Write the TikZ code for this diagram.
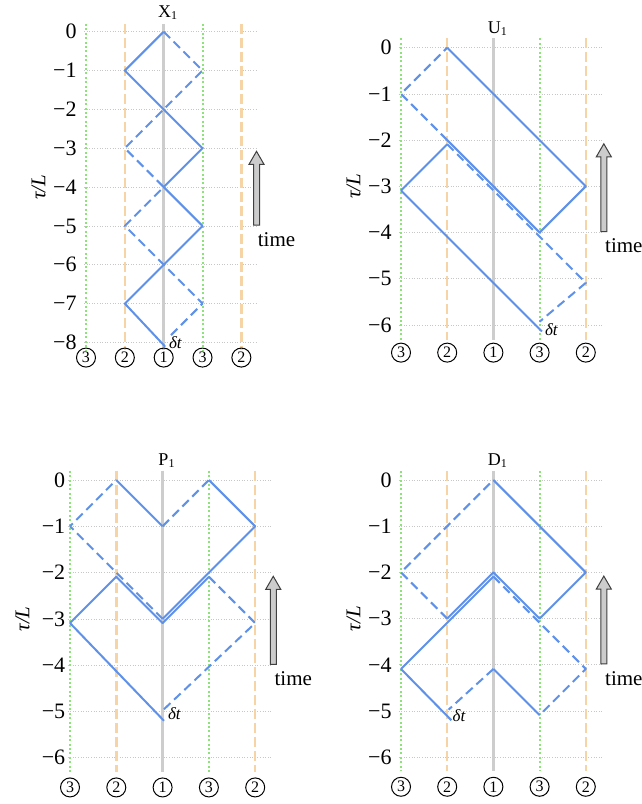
\documentclass[tikz,border=0pt]{standalone}
\usepackage{fontspec}
\setmainfont{Liberation Serif}

\definecolor{raycol}{RGB}{95,145,232}
\definecolor{mirgreen}{RGB}{140,228,120}
\definecolor{mirorange}{RGB}{246,212,165}
\definecolor{axisgray}{RGB}{205,205,205}

\tikzset{
  solidray/.style={raycol, line width=1pt, line join=round},
  dashray/.style={solidray, dash pattern=on 4.5pt off 2.5pt},
  greenmirror/.style={mirgreen, line width=1pt, dash pattern=on 1pt off 1.2pt},
  orangemirror/.style={mirorange, line width=1.2pt, dash pattern=on 5pt off 2pt},
  midline/.style={axisgray, line width=1.5pt},
  gridrow/.style={black!22, line width=0.35pt, dash pattern=on 0.5pt off 0.8pt},
  ticklabel/.style={anchor=east, inner sep=0pt, font=\fontsize{11}{13}\selectfont},
  portlabel/.style={circle, draw, line width=0.5pt, minimum size=9.5pt, inner sep=0pt, font=\fontsize{8}{9}\selectfont},
  timearrow/.style={fill=black!20, draw=black!75, line width=0.5pt},
  dtlabel/.style={anchor=west, inner sep=0pt, xshift=2.5pt, yshift=-1pt, font=\fontsize{8.5}{10}\selectfont\itshape}
}

% #1 prefix, #2 title, #3 rows, #4 mirror end, #5 port row, #6 tick gap
\newcommand{\rayframe}[6]{%
  \foreach \r in {0,...,#3}
    \draw[gridrow] (-0.05,-\r) -- (4.37,-\r);
  \draw[greenmirror] (0,0.2) -- (0,#4);
  \draw[orangemirror] (1,0.2) -- (1,#4);
  \draw[midline] (2,0.2) -- (2,#4);
  \draw[greenmirror] (3,0.2) -- (3,#4);
  \draw[orangemirror] (4,0.2) -- (4,#4);
  \node[inner sep=0pt, xshift=2.2pt, yshift=9.75pt, font=\fontsize{9}{10}\selectfont] (#1title) at (2,0) {#2\textsubscript{1}};
  \node[ticklabel, xshift=-#6] (#1t0) at (0,0) {0};
  \foreach \r in {1,...,#3}
    \node[ticklabel, xshift=-#6] (#1t\r) at (0,-\r) {−\r};
  \node[xshift=-23.75pt, rotate=90, inner sep=0pt, font=\fontsize{10.5}{12}\selectfont\itshape] (#1axis) at (0,-#3/2) {τ/L};
  \foreach \c/\m in {0/3,1/2,2/1,3/3,4/2}
    \node[portlabel] (#1p\c) at (\c,#5) {\m};
  \coordinate (#1atop) at (4.39,-#3/2+0.92);
  \coordinate (#1abot) at (4.39,-#3/2-0.98);
  \filldraw[timearrow] ([xshift=-1.5pt]#1abot) -- ([xshift=-1.5pt,yshift=-6.5pt]#1atop)
    -- ([xshift=-3.75pt,yshift=-6.5pt]#1atop) -- (#1atop)
    -- ([xshift=3.75pt,yshift=-6.5pt]#1atop) -- ([xshift=1.5pt,yshift=-6.5pt]#1atop)
    -- ([xshift=1.5pt]#1abot) -- cycle;
  \node[anchor=north west, inner sep=0pt, xshift=0.5pt, yshift=-3.5pt, font=\fontsize{10.5}{12}\selectfont] (#1time) at (#1abot) {time};
}

\begin{document}
\begin{tikzpicture}[x=0.5pt, y=-0.5pt]
  \path[use as bounding box, fill=white] (0,0) rectangle (642,804);

  % X_1
  \begin{scope}[shift={(86,31.7)}, x=19.42pt, y=19.42pt]
    \rayframe{x}{X}{8}{-8.2}{-8.39}{4.5pt}
    \draw[solidray] (2,0) -- (1,-1) -- (3,-3) -- (2,-4) -- (3,-5) -- (1,-7) -- (2.04,-8.11);
    \draw[dashray] (2,0) -- (3,-1) -- (1,-3) -- (2,-4) -- (1,-5) -- (3,-7) -- (2.12,-7.88);
    \node[dtlabel] (xdt) at (2,-7.95) {δt};
  \end{scope}

  % U_1
  \begin{scope}[shift={(401,47.7)}, x=23.1pt, y=23.1pt]
    \rayframe{u}{U}{6}{-6.33}{-6.6}{4.5pt}
    \draw[solidray] (1,0) -- (4,-3) -- (3,-4) -- (1,-2);
    \draw[dashray] (1,-2) -- (0,-1) -- (1,0);
    \draw[solidray] (3.05,-6.14) -- (0,-3.09) -- (1,-2.09);
    \draw[dashray] (1,-2.09) -- (4,-5.09) -- (3,-5.93);
    \node[dtlabel] (udt) at (3,-6.05) {δt};
  \end{scope}

  % P_1
  \begin{scope}[shift={(70,480)}, x=23.15pt, y=23.15pt]
    \rayframe{p}{P}{6}{-6.3}{-6.64}{2.2pt}
    \draw[solidray] (1,0) -- (2,-1);
    \draw[dashray] (2,-1) -- (3,0);
    \draw[solidray] (3,0) -- (4,-1) -- (2,-3);
    \draw[dashray] (2,-3) -- (0,-1) -- (1,0);
    \draw[solidray] (2.03,-5.2) -- (0,-3.09) -- (1,-2.09) -- (2,-3.09) -- (3,-2.09);
    \draw[dashray] (3,-2.09) -- (4,-3.09) -- (2.02,-4.96);
    \node[dtlabel] (pdt) at (2,-5) {δt};
  \end{scope}

  % D_1
  \begin{scope}[shift={(401,480)}, x=23.1pt, y=23.1pt]
    \rayframe{d}{D}{6}{-6.3}{-6.64}{4.5pt}
    \draw[solidray] (2,0) -- (4,-2) -- (3,-3) -- (2,-2) -- (1,-3);
    \draw[dashray] (1,-3) -- (0,-2) -- (2,0);
    \draw[solidray] (1.09,-5.2) -- (0,-4.09) -- (2,-2.09);
    \draw[dashray] (2,-2.09) -- (4,-4.09) -- (3,-5.09);
    \draw[solidray] (3,-5.09) -- (2,-4.09);
    \draw[dashray] (2,-4.09) -- (1.03,-4.97);
    \node[dtlabel] (ddt) at (1,-5.05) {δt};
  \end{scope}
\end{tikzpicture}
\end{document}
